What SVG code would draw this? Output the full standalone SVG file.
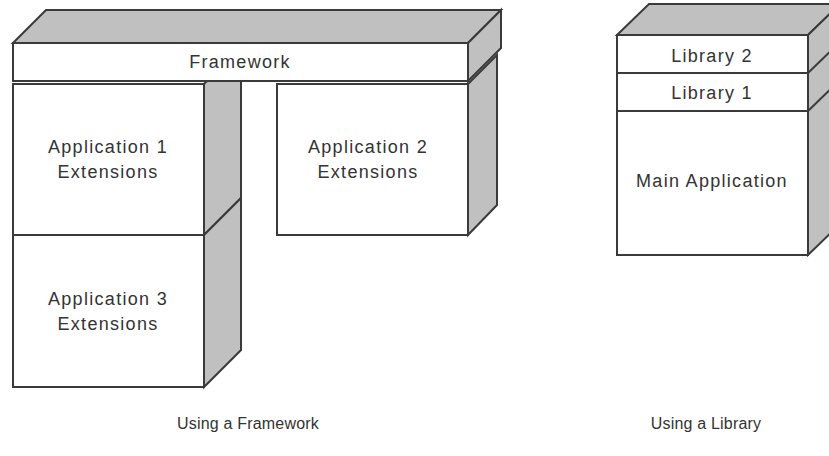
<svg xmlns="http://www.w3.org/2000/svg" width="829" height="456" viewBox="0 0 829 456">
<style>
.face{fill:#ffffff;stroke:#3a3a3a;stroke-width:2;stroke-linejoin:miter}
.side{fill:#c0c0c0;stroke:#3a3a3a;stroke-width:2;stroke-linejoin:miter}
.edge{fill:none;stroke:#3a3a3a;stroke-width:2}
text{font-family:"Liberation Sans",Arial,sans-serif;font-size:18px;fill:#333333;text-anchor:middle;letter-spacing:1.3px}
text.caption{font-size:16px;letter-spacing:0.2px}
</style>
<rect width="829" height="456" fill="#ffffff"/>
<g id="app1">
<polygon class="side" points="204,84 241,47 241,198 204,235"/>
<rect class="face" x="13" y="84" width="191" height="151"/>
<text x="108" y="153">Application 1</text>
<text x="108" y="178">Extensions</text>
</g>
<g id="app3">
<polygon class="side" points="204,235 241,198 241,350 204,387"/>
<rect class="face" x="13" y="235" width="191" height="152"/>
<text x="108" y="305">Application 3</text>
<text x="108" y="330">Extensions</text>
</g>
<g id="app2">
<polygon class="side" points="468,84 497,55 497,205 468,235"/>
<rect class="face" x="277" y="84" width="191" height="151"/>
<text x="368" y="153">Application 2</text>
<text x="368" y="178">Extensions</text>
</g>
<g id="framework">
<polygon class="side" points="13,43 46,10 501,10 468,43"/>
<polygon class="side" points="468,43 501,10 501,48 468,81"/>
<rect class="face" x="13" y="43" width="455" height="38"/>
<text x="240" y="68">Framework</text>
</g>
<g id="library-stack">
<polygon class="side" points="617,35 649,4 840,4 808,35"/>
<polygon class="side" points="808,35 840,4 840,224 808,255"/>
<line class="edge" x1="808" y1="73" x2="840" y2="42"/>
<line class="edge" x1="808" y1="111" x2="840" y2="80"/>
</g>
<g id="library2">
<rect class="face" x="617" y="35" width="191" height="38"/>
<text x="712" y="62">Library 2</text>
</g>
<g id="library1">
<rect class="face" x="617" y="73" width="191" height="38"/>
<text x="712" y="99">Library 1</text>
</g>
<g id="main-app">
<rect class="face" x="617" y="111" width="191" height="144"/>
<text x="712" y="187">Main Application</text>
</g>
<g id="captions">
<text class="caption" x="248" y="429">Using a Framework</text>
<text class="caption" x="706" y="429">Using a Library</text>
</g>
<g id="connectors"></g>
</svg>
